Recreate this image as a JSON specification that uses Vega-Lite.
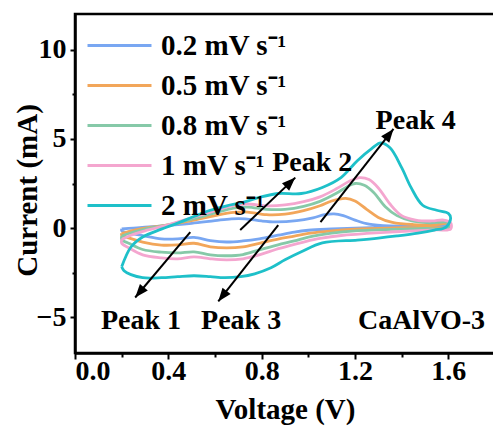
{
  "$schema": "https://vega.github.io/schema/vega-lite/v6.json",
  "width": 420,
  "height": 339,
  "autosize": "none",
  "padding": {"left": 75, "top": 14, "right": 0, "bottom": 75},
  "background": "white",
  "config": {
    "font": "Liberation Serif",
    "view": {"stroke": "black", "strokeWidth": 2.5},
    "axis": {
      "grid": false,
      "domainColor": "black",
      "domainWidth": 2.5,
      "tickColor": "black",
      "tickWidth": 2,
      "labelColor": "black",
      "labelFont": "Liberation Serif",
      "labelFontWeight": "bold",
      "labelFontSize": 28,
      "titleFont": "Liberation Serif",
      "titleFontWeight": "bold",
      "titleFontSize": 29,
      "titleColor": "black"
    }
  },
  "datasets": {
    "cv": [
      {"s": "0.2", "k": 0, "v": 0.20, "i": -0.05},
      {"s": "0.2", "k": 1, "v": 0.25, "i": 0.00},
      {"s": "0.2", "k": 2, "v": 0.30, "i": 0.05},
      {"s": "0.2", "k": 3, "v": 0.40, "i": 0.15},
      {"s": "0.2", "k": 4, "v": 0.50, "i": 0.27},
      {"s": "0.2", "k": 5, "v": 0.60, "i": 0.42},
      {"s": "0.2", "k": 6, "v": 0.67, "i": 0.52},
      {"s": "0.2", "k": 7, "v": 0.73, "i": 0.52},
      {"s": "0.2", "k": 8, "v": 0.80, "i": 0.40},
      {"s": "0.2", "k": 9, "v": 0.86, "i": 0.35},
      {"s": "0.2", "k": 10, "v": 0.95, "i": 0.42},
      {"s": "0.2", "k": 11, "v": 1.02, "i": 0.58},
      {"s": "0.2", "k": 12, "v": 1.07, "i": 0.75},
      {"s": "0.2", "k": 13, "v": 1.11, "i": 0.80},
      {"s": "0.2", "k": 14, "v": 1.15, "i": 0.70},
      {"s": "0.2", "k": 15, "v": 1.20, "i": 0.45},
      {"s": "0.2", "k": 16, "v": 1.26, "i": 0.22},
      {"s": "0.2", "k": 17, "v": 1.35, "i": 0.12},
      {"s": "0.2", "k": 18, "v": 1.45, "i": 0.12},
      {"s": "0.2", "k": 19, "v": 1.55, "i": 0.15},
      {"s": "0.2", "k": 20, "v": 1.60, "i": 0.22},
      {"s": "0.2", "k": 21, "v": 1.60, "i": 0.10},
      {"s": "0.2", "k": 22, "v": 1.50, "i": 0.10},
      {"s": "0.2", "k": 23, "v": 1.40, "i": 0.08},
      {"s": "0.2", "k": 24, "v": 1.30, "i": 0.04},
      {"s": "0.2", "k": 25, "v": 1.20, "i": 0.00},
      {"s": "0.2", "k": 26, "v": 1.10, "i": -0.05},
      {"s": "0.2", "k": 27, "v": 1.00, "i": -0.12},
      {"s": "0.2", "k": 28, "v": 0.94, "i": -0.22},
      {"s": "0.2", "k": 29, "v": 0.87, "i": -0.40},
      {"s": "0.2", "k": 30, "v": 0.79, "i": -0.60},
      {"s": "0.2", "k": 31, "v": 0.72, "i": -0.72},
      {"s": "0.2", "k": 32, "v": 0.65, "i": -0.78},
      {"s": "0.2", "k": 33, "v": 0.58, "i": -0.70},
      {"s": "0.2", "k": 34, "v": 0.51, "i": -0.52},
      {"s": "0.2", "k": 35, "v": 0.44, "i": -0.60},
      {"s": "0.2", "k": 36, "v": 0.37, "i": -0.60},
      {"s": "0.2", "k": 37, "v": 0.29, "i": -0.42},
      {"s": "0.2", "k": 38, "v": 0.24, "i": -0.30},
      {"s": "0.2", "k": 39, "v": 0.20, "i": -0.15},
      {"s": "0.2", "k": 40, "v": 0.20, "i": -0.05},

      {"s": "0.5", "k": 0, "v": 0.20, "i": -0.30},
      {"s": "0.5", "k": 1, "v": 0.25, "i": -0.12},
      {"s": "0.5", "k": 2, "v": 0.30, "i": 0.00},
      {"s": "0.5", "k": 3, "v": 0.40, "i": 0.18},
      {"s": "0.5", "k": 4, "v": 0.50, "i": 0.42},
      {"s": "0.5", "k": 5, "v": 0.60, "i": 0.70},
      {"s": "0.5", "k": 6, "v": 0.68, "i": 0.88},
      {"s": "0.5", "k": 7, "v": 0.74, "i": 0.90},
      {"s": "0.5", "k": 8, "v": 0.82, "i": 0.75},
      {"s": "0.5", "k": 9, "v": 0.90, "i": 0.78},
      {"s": "0.5", "k": 10, "v": 0.98, "i": 0.98},
      {"s": "0.5", "k": 11, "v": 1.05, "i": 1.25},
      {"s": "0.5", "k": 12, "v": 1.10, "i": 1.52},
      {"s": "0.5", "k": 13, "v": 1.16, "i": 1.67},
      {"s": "0.5", "k": 14, "v": 1.20, "i": 1.52},
      {"s": "0.5", "k": 15, "v": 1.25, "i": 1.05},
      {"s": "0.5", "k": 16, "v": 1.30, "i": 0.60},
      {"s": "0.5", "k": 17, "v": 1.36, "i": 0.32},
      {"s": "0.5", "k": 18, "v": 1.45, "i": 0.20},
      {"s": "0.5", "k": 19, "v": 1.55, "i": 0.20},
      {"s": "0.5", "k": 20, "v": 1.60, "i": 0.25},
      {"s": "0.5", "k": 21, "v": 1.60, "i": 0.05},
      {"s": "0.5", "k": 22, "v": 1.50, "i": 0.06},
      {"s": "0.5", "k": 23, "v": 1.40, "i": 0.03},
      {"s": "0.5", "k": 24, "v": 1.30, "i": -0.02},
      {"s": "0.5", "k": 25, "v": 1.20, "i": -0.06},
      {"s": "0.5", "k": 26, "v": 1.10, "i": -0.15},
      {"s": "0.5", "k": 27, "v": 1.00, "i": -0.30},
      {"s": "0.5", "k": 28, "v": 0.94, "i": -0.45},
      {"s": "0.5", "k": 29, "v": 0.87, "i": -0.62},
      {"s": "0.5", "k": 30, "v": 0.79, "i": -0.85},
      {"s": "0.5", "k": 31, "v": 0.72, "i": -1.05},
      {"s": "0.5", "k": 32, "v": 0.65, "i": -1.11},
      {"s": "0.5", "k": 33, "v": 0.58, "i": -1.05},
      {"s": "0.5", "k": 34, "v": 0.51, "i": -0.85},
      {"s": "0.5", "k": 35, "v": 0.44, "i": -0.94},
      {"s": "0.5", "k": 36, "v": 0.37, "i": -0.95},
      {"s": "0.5", "k": 37, "v": 0.29, "i": -0.78},
      {"s": "0.5", "k": 38, "v": 0.23, "i": -0.55},
      {"s": "0.5", "k": 39, "v": 0.20, "i": -0.40},
      {"s": "0.5", "k": 40, "v": 0.20, "i": -0.30},

      {"s": "0.8", "k": 0, "v": 0.20, "i": -0.45},
      {"s": "0.8", "k": 1, "v": 0.25, "i": -0.22},
      {"s": "0.8", "k": 2, "v": 0.30, "i": -0.05},
      {"s": "0.8", "k": 3, "v": 0.40, "i": 0.18},
      {"s": "0.8", "k": 4, "v": 0.50, "i": 0.50},
      {"s": "0.8", "k": 5, "v": 0.60, "i": 0.85},
      {"s": "0.8", "k": 6, "v": 0.68, "i": 1.12},
      {"s": "0.8", "k": 7, "v": 0.74, "i": 1.18},
      {"s": "0.8", "k": 8, "v": 0.82, "i": 1.05},
      {"s": "0.8", "k": 9, "v": 0.90, "i": 1.05},
      {"s": "0.8", "k": 10, "v": 0.98, "i": 1.22},
      {"s": "0.8", "k": 11, "v": 1.05, "i": 1.50},
      {"s": "0.8", "k": 12, "v": 1.12, "i": 1.95},
      {"s": "0.8", "k": 13, "v": 1.17, "i": 2.35},
      {"s": "0.8", "k": 14, "v": 1.20, "i": 2.50},
      {"s": "0.8", "k": 15, "v": 1.24, "i": 2.40},
      {"s": "0.8", "k": 16, "v": 1.28, "i": 2.00},
      {"s": "0.8", "k": 17, "v": 1.33, "i": 1.20},
      {"s": "0.8", "k": 18, "v": 1.38, "i": 0.70},
      {"s": "0.8", "k": 19, "v": 1.44, "i": 0.42},
      {"s": "0.8", "k": 20, "v": 1.52, "i": 0.30},
      {"s": "0.8", "k": 21, "v": 1.60, "i": 0.30},
      {"s": "0.8", "k": 22, "v": 1.60, "i": 0.00},
      {"s": "0.8", "k": 23, "v": 1.50, "i": -0.02},
      {"s": "0.8", "k": 24, "v": 1.40, "i": -0.06},
      {"s": "0.8", "k": 25, "v": 1.30, "i": -0.10},
      {"s": "0.8", "k": 26, "v": 1.20, "i": -0.15},
      {"s": "0.8", "k": 27, "v": 1.10, "i": -0.28},
      {"s": "0.8", "k": 28, "v": 1.00, "i": -0.50},
      {"s": "0.8", "k": 29, "v": 0.94, "i": -0.72},
      {"s": "0.8", "k": 30, "v": 0.87, "i": -0.94},
      {"s": "0.8", "k": 31, "v": 0.79, "i": -1.22},
      {"s": "0.8", "k": 32, "v": 0.72, "i": -1.48},
      {"s": "0.8", "k": 33, "v": 0.65, "i": -1.55},
      {"s": "0.8", "k": 34, "v": 0.58, "i": -1.50},
      {"s": "0.8", "k": 35, "v": 0.51, "i": -1.33},
      {"s": "0.8", "k": 36, "v": 0.44, "i": -1.39},
      {"s": "0.8", "k": 37, "v": 0.37, "i": -1.35},
      {"s": "0.8", "k": 38, "v": 0.29, "i": -1.20},
      {"s": "0.8", "k": 39, "v": 0.23, "i": -0.85},
      {"s": "0.8", "k": 40, "v": 0.20, "i": -0.65},
      {"s": "0.8", "k": 41, "v": 0.20, "i": -0.45},

      {"s": "1", "k": 0, "v": 0.20, "i": -0.65},
      {"s": "1", "k": 1, "v": 0.24, "i": -0.40},
      {"s": "1", "k": 2, "v": 0.30, "i": -0.15},
      {"s": "1", "k": 3, "v": 0.40, "i": 0.18},
      {"s": "1", "k": 4, "v": 0.50, "i": 0.58},
      {"s": "1", "k": 5, "v": 0.60, "i": 0.98},
      {"s": "1", "k": 6, "v": 0.68, "i": 1.28},
      {"s": "1", "k": 7, "v": 0.74, "i": 1.35},
      {"s": "1", "k": 8, "v": 0.82, "i": 1.25},
      {"s": "1", "k": 9, "v": 0.90, "i": 1.30},
      {"s": "1", "k": 10, "v": 0.98, "i": 1.48},
      {"s": "1", "k": 11, "v": 1.05, "i": 1.75},
      {"s": "1", "k": 12, "v": 1.12, "i": 2.20},
      {"s": "1", "k": 13, "v": 1.18, "i": 2.65},
      {"s": "1", "k": 14, "v": 1.22, "i": 2.83},
      {"s": "1", "k": 15, "v": 1.26, "i": 2.72},
      {"s": "1", "k": 16, "v": 1.30, "i": 2.25},
      {"s": "1", "k": 17, "v": 1.35, "i": 1.35},
      {"s": "1", "k": 18, "v": 1.40, "i": 0.70},
      {"s": "1", "k": 19, "v": 1.46, "i": 0.45},
      {"s": "1", "k": 20, "v": 1.53, "i": 0.40},
      {"s": "1", "k": 21, "v": 1.58, "i": 0.45},
      {"s": "1", "k": 22, "v": 1.61, "i": 0.30},
      {"s": "1", "k": 23, "v": 1.61, "i": -0.05},
      {"s": "1", "k": 24, "v": 1.55, "i": -0.10},
      {"s": "1", "k": 25, "v": 1.45, "i": -0.15},
      {"s": "1", "k": 26, "v": 1.35, "i": -0.22},
      {"s": "1", "k": 27, "v": 1.25, "i": -0.30},
      {"s": "1", "k": 28, "v": 1.15, "i": -0.40},
      {"s": "1", "k": 29, "v": 1.05, "i": -0.58},
      {"s": "1", "k": 30, "v": 0.98, "i": -0.78},
      {"s": "1", "k": 31, "v": 0.92, "i": -0.98},
      {"s": "1", "k": 32, "v": 0.86, "i": -1.20},
      {"s": "1", "k": 33, "v": 0.79, "i": -1.50},
      {"s": "1", "k": 34, "v": 0.72, "i": -1.72},
      {"s": "1", "k": 35, "v": 0.65, "i": -1.78},
      {"s": "1", "k": 36, "v": 0.58, "i": -1.72},
      {"s": "1", "k": 37, "v": 0.51, "i": -1.61},
      {"s": "1", "k": 38, "v": 0.44, "i": -1.72},
      {"s": "1", "k": 39, "v": 0.37, "i": -1.67},
      {"s": "1", "k": 40, "v": 0.29, "i": -1.50},
      {"s": "1", "k": 41, "v": 0.23, "i": -1.10},
      {"s": "1", "k": 42, "v": 0.20, "i": -0.85},
      {"s": "1", "k": 43, "v": 0.20, "i": -0.65},

      {"s": "2", "k": 0, "v": 0.20, "i": -2.17},
      {"s": "2", "k": 1, "v": 0.24, "i": -1.06},
      {"s": "2", "k": 2, "v": 0.29, "i": -0.50},
      {"s": "2", "k": 3, "v": 0.37, "i": -0.06},
      {"s": "2", "k": 4, "v": 0.44, "i": 0.28},
      {"s": "2", "k": 5, "v": 0.51, "i": 0.65},
      {"s": "2", "k": 6, "v": 0.58, "i": 1.00},
      {"s": "2", "k": 7, "v": 0.65, "i": 1.25},
      {"s": "2", "k": 8, "v": 0.72, "i": 1.44},
      {"s": "2", "k": 9, "v": 0.79, "i": 1.72},
      {"s": "2", "k": 10, "v": 0.87, "i": 1.94},
      {"s": "2", "k": 11, "v": 0.97, "i": 1.94},
      {"s": "2", "k": 12, "v": 1.06, "i": 2.28},
      {"s": "2", "k": 13, "v": 1.14, "i": 2.83},
      {"s": "2", "k": 14, "v": 1.21, "i": 3.78},
      {"s": "2", "k": 15, "v": 1.27, "i": 4.44},
      {"s": "2", "k": 16, "v": 1.31, "i": 4.78},
      {"s": "2", "k": 17, "v": 1.35, "i": 4.50},
      {"s": "2", "k": 18, "v": 1.40, "i": 3.39},
      {"s": "2", "k": 19, "v": 1.44, "i": 2.28},
      {"s": "2", "k": 20, "v": 1.49, "i": 1.28},
      {"s": "2", "k": 21, "v": 1.55, "i": 1.00},
      {"s": "2", "k": 22, "v": 1.60, "i": 0.83},
      {"s": "2", "k": 23, "v": 1.61, "i": 0.56},
      {"s": "2", "k": 24, "v": 1.59, "i": 0.06},
      {"s": "2", "k": 25, "v": 1.54, "i": -0.11},
      {"s": "2", "k": 26, "v": 1.47, "i": -0.28},
      {"s": "2", "k": 27, "v": 1.38, "i": -0.44},
      {"s": "2", "k": 28, "v": 1.30, "i": -0.56},
      {"s": "2", "k": 29, "v": 1.21, "i": -0.67},
      {"s": "2", "k": 30, "v": 1.06, "i": -0.83},
      {"s": "2", "k": 31, "v": 0.97, "i": -1.33},
      {"s": "2", "k": 32, "v": 0.90, "i": -1.78},
      {"s": "2", "k": 33, "v": 0.84, "i": -2.22},
      {"s": "2", "k": 34, "v": 0.77, "i": -2.56},
      {"s": "2", "k": 35, "v": 0.71, "i": -2.72},
      {"s": "2", "k": 36, "v": 0.64, "i": -2.78},
      {"s": "2", "k": 37, "v": 0.58, "i": -2.72},
      {"s": "2", "k": 38, "v": 0.51, "i": -2.67},
      {"s": "2", "k": 39, "v": 0.44, "i": -2.72},
      {"s": "2", "k": 40, "v": 0.37, "i": -2.78},
      {"s": "2", "k": 41, "v": 0.29, "i": -2.78},
      {"s": "2", "k": 42, "v": 0.24, "i": -2.61},
      {"s": "2", "k": 43, "v": 0.21, "i": -2.39},
      {"s": "2", "k": 44, "v": 0.20, "i": -2.17}
    ],
    "arrows": [
      {"peak": "Peak 1", "v0": 0.494, "i0": -0.22, "v1": 0.258, "i1": -3.89, "dir": 220},
      {"peak": "Peak 2", "v0": 0.708, "i0": -0.11, "v1": 0.944, "i1": 2.83, "dir": 46},
      {"peak": "Peak 3", "v0": 0.871, "i0": 0.17, "v1": 0.614, "i1": -4.11, "dir": 218},
      {"peak": "Peak 4", "v0": 1.052, "i0": 0.33, "v1": 1.365, "i1": 5.56, "dir": 38}
    ],
    "labels": [
      {"text": "Peak 1", "v": 0.283, "i": -5.2},
      {"text": "Peak 3", "v": 0.712, "i": -5.2},
      {"text": "Peak 2", "v": 1.017, "i": 3.67},
      {"text": "Peak 4", "v": 1.46, "i": 6.0},
      {"text": "CaAlVO-3", "v": 1.485, "i": -5.2}
    ]
  },
  "layer": [
    {
      "data": {"name": "cv"},
      "mark": {"type": "line", "interpolate": "catmull-rom", "strokeWidth": 2.8, "clip": true},
      "encoding": {
        "x": {
          "field": "v", "type": "quantitative",
          "scale": {"domain": [0, 1.8], "nice": false, "zero": false},
          "axis": {
            "values": [0, 0.4, 0.8, 1.2, 1.6], "format": ".1f",
            "tickSize": 6, "labelPadding": -2,
            "title": "Voltage (V)", "titlePadding": 10
          }
        },
        "y": {
          "field": "i", "type": "quantitative",
          "scale": {"domain": [-7, 12], "nice": false, "zero": false},
          "axis": {
            "values": [-5, 0, 5, 10],
            "tickSize": 5, "labelPadding": 4,
            "title": "Current (mA)", "titlePadding": -6, "titleY": 176
          }
        },
        "color": {
          "field": "s", "type": "nominal",
          "scale": {
            "domain": ["0.2", "0.5", "0.8", "1", "2"],
            "range": ["#79a7f2", "#f2a65a", "#86c9a8", "#f4a6cf", "#1ec0c9"]
          },
          "legend": {
            "orient": "none", "legendX": 30, "legendY": 17,
            "title": null, "padding": 0,
            "symbolType": "M-2.5,0H2.5", "symbolSize": 655, "symbolStrokeWidth": 3,
            "labelExpr": "datum.label + ' mV s⁻¹'",
            "labelFont": "Liberation Serif", "labelFontWeight": "bold",
            "labelFontSize": 29, "labelColor": "black", "labelOffset": 27,
            "rowPadding": 10
          }
        },
        "order": {"field": "k", "type": "quantitative"}
      }
    },
    {
      "data": {"name": "arrows"},
      "mark": {"type": "rule", "color": "black", "strokeWidth": 2},
      "encoding": {
        "x": {"field": "v0", "type": "quantitative", "axis": null},
        "y": {"field": "i0", "type": "quantitative", "axis": null},
        "x2": {"field": "v1"},
        "y2": {"field": "i1"}
      }
    },
    {
      "data": {"name": "arrows"},
      "mark": {"type": "point", "shape": "M0,0L-0.42,1.1L0.42,1.1Z", "filled": true, "color": "black", "size": 600, "opacity": 1, "strokeWidth": 0},
      "encoding": {
        "x": {"field": "v1", "type": "quantitative", "axis": null},
        "y": {"field": "i1", "type": "quantitative", "axis": null},
        "angle": {"field": "dir", "type": "quantitative", "scale": null}
      }
    },
    {
      "data": {"name": "labels"},
      "mark": {"type": "text", "font": "Liberation Serif", "fontWeight": "bold", "fontSize": 28, "color": "black", "align": "center", "baseline": "middle"},
      "encoding": {
        "x": {
          "field": "v", "type": "quantitative",
          "axis": {"orient": "bottom", "values": [0.2, 0.6, 1.0, 1.4], "labels": false, "tickSize": 4, "domain": false, "title": null}
        },
        "y": {
          "field": "i", "type": "quantitative",
          "axis": {"orient": "left", "values": [-2.5, 2.5, 7.5], "labels": false, "tickSize": 3, "domain": false, "title": null}
        },
        "text": {"field": "text"}
      }
    }
  ],
  "resolve": {"axis": {"x": "independent", "y": "independent"}}
}
